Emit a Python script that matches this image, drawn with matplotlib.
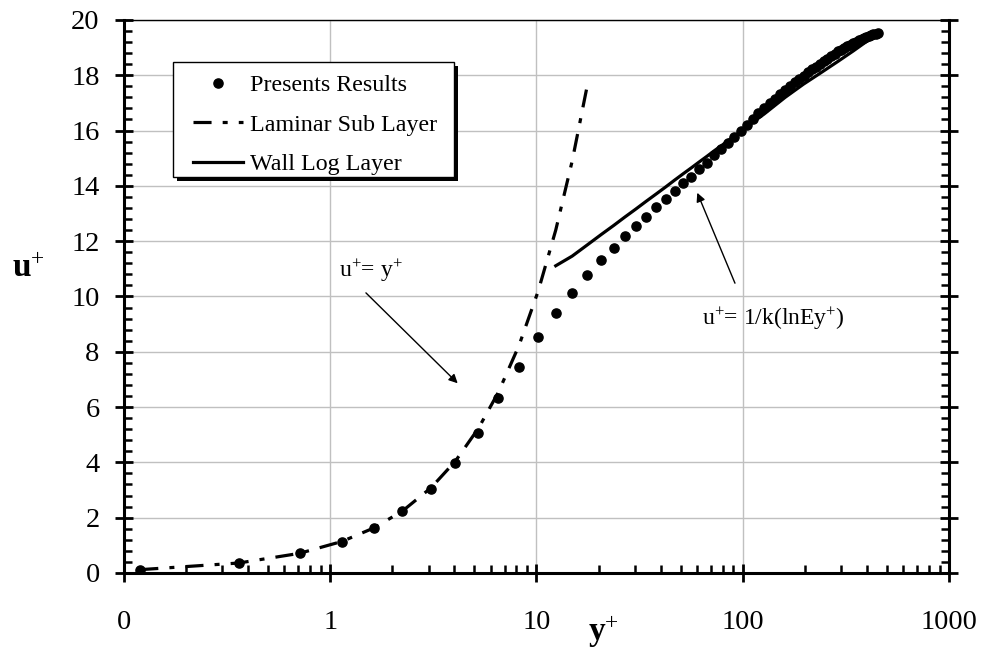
import matplotlib
matplotlib.use("Agg")
import matplotlib.pyplot as plt
from matplotlib.ticker import MultipleLocator, LogLocator, NullFormatter
from matplotlib.patches import Rectangle
from matplotlib.lines import Line2D

plt.rcParams['font.family'] = ['Liberation Serif', 'DejaVu Serif']
plt.rcParams['mathtext.fontset'] = 'custom'
plt.rcParams['mathtext.rm'] = 'Liberation Serif'
plt.rcParams['mathtext.it'] = 'Liberation Serif:italic'
plt.rcParams['mathtext.bf'] = 'Liberation Serif:bold'

# ---------------- data ----------------
dots_yplus = [0.12, 0.36, 0.71, 1.14, 1.63, 2.24, 3.08, 4.04, 5.23, 6.53, 8.22, 10.2,
              12.4, 14.9, 17.6, 20.6, 23.7, 26.8, 30.3, 34.0, 38.1, 42.3, 46.8, 51.5,
              56.3, 61.4, 67.1, 72.8, 78.7, 84.5, 91.0, 97.7, 104.5,
              111.7, 119.2, 127.1, 135.0, 143.3, 151.8, 160.5, 169.3, 178.6, 187.8,
              197.2, 207.0, 216.9, 226.8, 237.0, 247.3, 257.6, 268.2, 278.9, 289.3,
              300.2, 311.2, 321.8, 332.7, 343.6, 354.5, 365.4, 376.6, 387.2, 398.1,
              408.9, 419.6, 430.4, 441.1, 451.6]
dots_uplus = [0.11, 0.36, 0.71, 1.13, 1.62, 2.25, 3.04, 3.97, 5.07, 6.32, 7.46, 8.52,
              9.39, 10.14, 10.78, 11.32, 11.77, 12.18, 12.55, 12.89, 13.23, 13.53, 13.82, 14.09,
              14.33, 14.60, 14.84, 15.10, 15.35, 15.56, 15.78, 16.00, 16.21,
              16.42, 16.62, 16.81, 16.98, 17.15, 17.31, 17.46, 17.60, 17.74, 17.86,
              17.98, 18.10, 18.21, 18.31, 18.42, 18.51, 18.60, 18.71, 18.78, 18.86,
              18.93, 18.99, 19.06, 19.11, 19.17, 19.22, 19.27, 19.31, 19.35, 19.39,
              19.42, 19.45, 19.48, 19.50, 19.52]

lam_yplus = [0.12, 0.36, 0.71, 1.14, 1.63, 2.24, 3.08, 4.04, 5.23, 6.53, 8.22, 10.2,
             12.4, 14.9, 17.6]
lam_uplus = [0.12, 0.36, 0.71, 1.14, 1.63, 2.24, 3.08, 4.04, 5.23, 6.53, 8.22, 10.2,
             12.4, 14.9, 17.6]

log_yplus = [12.4, 14.9, 17.6, 20.6, 23.7, 26.8, 30.3, 34.0, 38.1, 42.3, 46.8, 51.5,
             56.3, 61.4, 67.1, 72.8, 78.7, 84.5, 91.0, 97.7, 104.5, 127.1, 160.5,
             197.2, 237.0, 289.3, 343.6, 398.1, 451.6]
log_uplus = [11.11, 11.46, 11.86, 12.24, 12.57, 12.87, 13.16, 13.44, 13.71, 13.96, 14.21,
             14.44, 14.65, 14.86, 15.07, 15.27, 15.45, 15.62, 15.80, 15.97, 16.14, 16.60,
             17.20, 17.68, 18.07, 18.50, 18.88, 19.22, 19.50]

x_ticks = [0.1, 1, 10, 100, 1000]
x_ticklabels = ["0", "1", "10", "100", "1000"]

legend_labels = ["Presents Results", "Laminar Sub Layer", "Wall Log Layer"]

# ---------------- figure ----------------
fig = plt.figure(figsize=(9.83, 6.5), dpi=100)
ax = fig.add_axes([0.1261, 0.1185, 0.8393, 0.8508])

lw = 2.3
dash = (0, (13.0 / lw, 8.0 / lw, 3.6 / lw, 8.0 / lw))

ax.plot(dots_yplus, dots_uplus, linestyle='none', marker='o', markersize=6.6,
        color='black', zorder=3)
ax.plot(lam_yplus, lam_uplus, color='black', lw=lw, linestyle=dash, zorder=3)
ax.plot(log_yplus, log_uplus, color='black', lw=lw, linestyle='-', zorder=3)

ax.set_xscale('log')
ax.set_xlim(0.1, 1000)
ax.set_ylim(0, 20)

ax.set_xticks(x_ticks)
ax.set_xticklabels(x_ticklabels)
ax.xaxis.set_minor_locator(LogLocator(base=10, subs=[2, 3, 4, 5, 6, 7, 8, 9], numticks=20))
ax.xaxis.set_minor_formatter(NullFormatter())
ax.yaxis.set_major_locator(MultipleLocator(2))
ax.yaxis.set_minor_locator(MultipleLocator(0.4))

ax.grid(True, which='major', color='#c0c0c0', lw=1.0, zorder=0)
ax.set_axisbelow(True)

for s in ['left', 'bottom', 'right']:
    ax.spines[s].set_linewidth(2.2)
ax.spines['top'].set_linewidth(1.0)

ax.tick_params(which='major', direction='inout', length=13, width=2.0,
               labelsize=20.5, top=False, right=True, left=True, bottom=True)
ax.tick_params(which='minor', direction='in', length=6, width=1.8,
               top=False, right=True, left=True, bottom=True)
ax.tick_params(axis='x', which='major', pad=20)
ax.tick_params(axis='y', which='major', pad=11)

# axis labels
fig.text(11.7 / 983, 1 - 276.7 / 650, r"u$^{+}$", fontsize=24, fontweight='bold',
         ha='left', va='baseline')
fig.text(588.3 / 983, 1 - 641 / 650, r"y$^{+}$", fontsize=24, fontweight='bold',
         ha='left', va='baseline')

# annotations
ax.annotate("", xy=(4.15, 6.86), xytext=(1.49, 10.13),
            arrowprops=dict(arrowstyle='-|>', color='black', lw=1.0,
                            mutation_scale=13, shrinkA=0, shrinkB=0))
ax.text(1.10, 10.72, r"u$^{+}$= y$^{+}$", fontsize=17, ha='left', va='baseline')

ax.annotate("", xy=(60.2, 13.75), xytext=(91.7, 10.48),
            arrowprops=dict(arrowstyle='-|>', color='black', lw=1.0,
                            mutation_scale=13, shrinkA=0, shrinkB=0))
ax.text(63.2, 8.97, r"u$^{+}$= 1/k(lnEy$^{+}$)", fontsize=17, ha='left', va='baseline')

# legend box with black shadow
bx0, bx1 = 0.0590, 0.4004
by0, by1 = 0.7160, 0.9246
sh_dx, sh_dy = 4 / 825, 4 / 553
ax.add_patch(Rectangle((bx0 + sh_dx, by0 - sh_dy), bx1 - bx0, by1 - by0,
                       transform=ax.transAxes, facecolor='black', edgecolor='none',
                       zorder=6, clip_on=False))
ax.add_patch(Rectangle((bx0, by0), bx1 - bx0, by1 - by0,
                       transform=ax.transAxes, facecolor='white', edgecolor='black',
                       lw=1.0, zorder=6.1, clip_on=False))

handles = [Line2D([], [], linestyle='none', marker='o', markersize=6.6, color='black'),
           Line2D([], [], color='black', lw=lw, linestyle=dash),
           Line2D([], [], color='black', lw=lw, linestyle='-')]
leg = ax.legend(handles, legend_labels, loc='upper left',
                bbox_to_anchor=(0.0840, 0.9015), borderaxespad=0, borderpad=0,
                frameon=False, fontsize=17.3, handlelength=2.08, handletextpad=0.3,
                labelspacing=0.73)
leg.set_zorder(7)

fig.savefig("out.png", dpi=100)
